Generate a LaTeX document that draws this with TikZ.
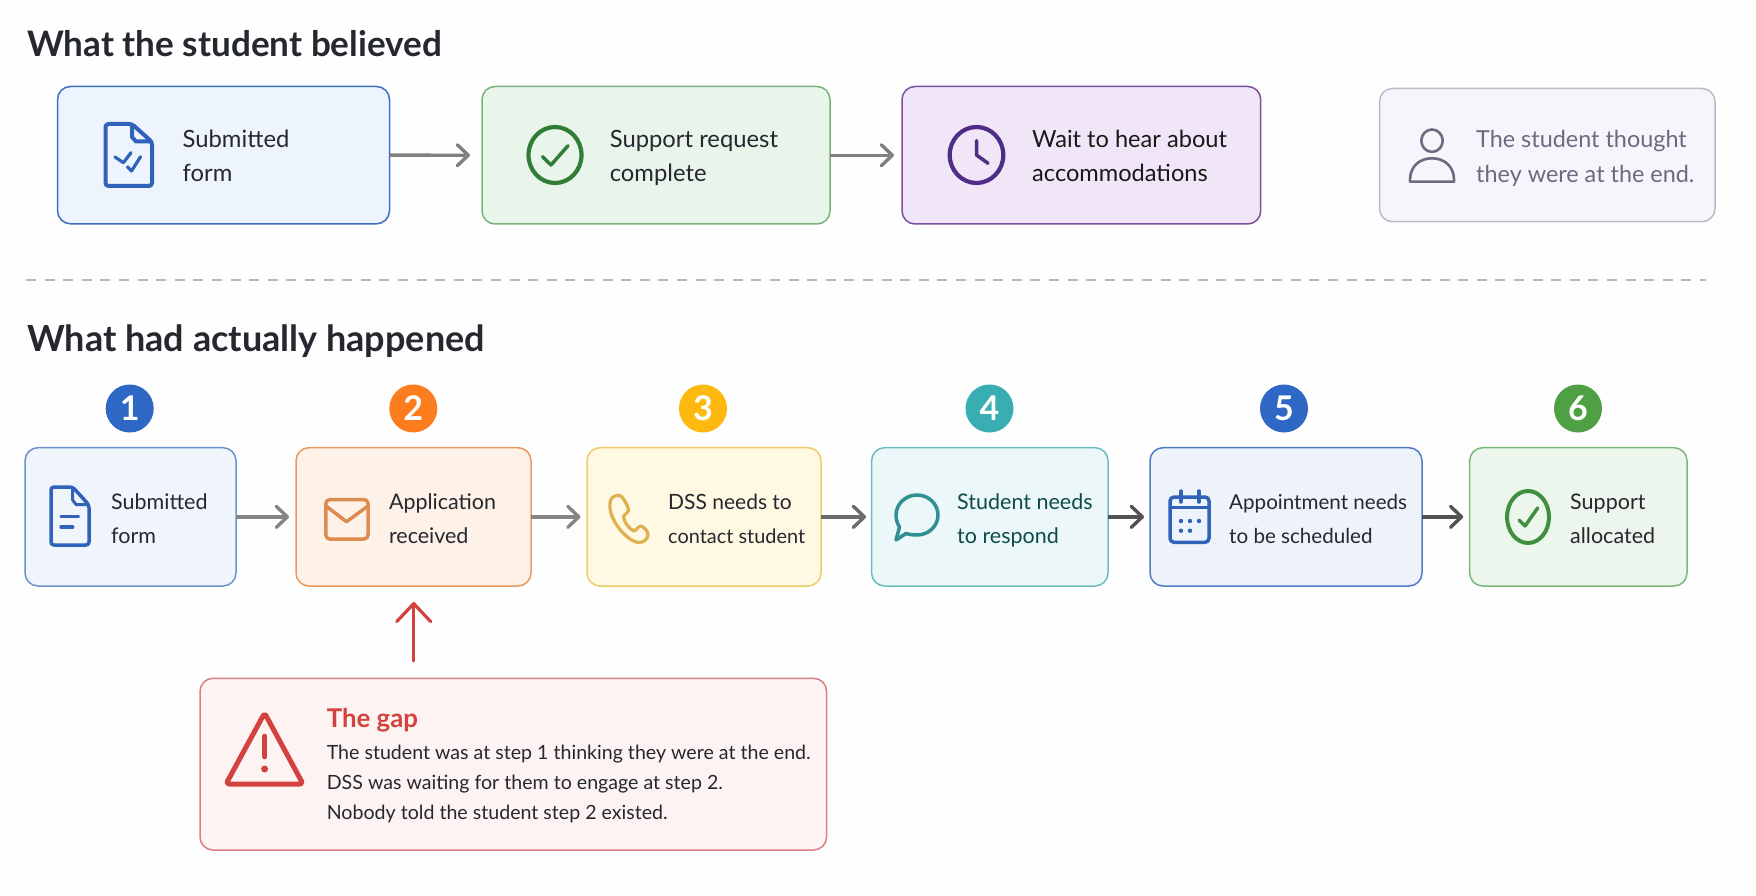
\documentclass[tikz,border=0pt]{standalone}
\usepackage{fontspec}
\setmainfont{Lato}
\usetikzlibrary{arrows.meta}
\definecolor{bgc}{HTML}{FEFEFE}
\definecolor{ink}{HTML}{25282E}
\definecolor{blueS}{HTML}{3D70C0}\definecolor{blueF}{HTML}{EEF4FD}\definecolor{blueI}{HTML}{2F62B8}
\definecolor{greenS}{HTML}{7AB07E}\definecolor{greenF}{HTML}{E9F4EA}\definecolor{greenI}{HTML}{2F7D36}
\definecolor{purpS}{HTML}{7A519C}\definecolor{purpF}{HTML}{F0E6F7}\definecolor{purpI}{HTML}{4F2D87}
\definecolor{greyS}{HTML}{BDBAC8}\definecolor{greyF}{HTML}{F7F5FB}\definecolor{greyI}{HTML}{6D6980}
\definecolor{oneS}{HTML}{6A93CB}\definecolor{oneF}{HTML}{F0F5FC}
\definecolor{orS}{HTML}{E89A5E}\definecolor{orF}{HTML}{FDF1E8}\definecolor{orI}{HTML}{DD8C50}\definecolor{orN}{HTML}{FB7D1E}
\definecolor{yeS}{HTML}{F0CC66}\definecolor{yeF}{HTML}{FFF8E2}\definecolor{yeI}{HTML}{E0B050}\definecolor{yeN}{HTML}{FDB90F}
\definecolor{teS}{HTML}{6EBCC0}\definecolor{teF}{HTML}{EBF7F8}\definecolor{teI}{HTML}{2F8F93}\definecolor{teN}{HTML}{38ADB2}\definecolor{teT}{HTML}{0F4A4A}
\definecolor{fiS}{HTML}{4F7CC4}\definecolor{fiF}{HTML}{EDF2FB}\definecolor{fiN}{HTML}{2F68C4}
\definecolor{siS}{HTML}{7AB87A}\definecolor{siF}{HTML}{EDF6ED}\definecolor{siI}{HTML}{3F8F3F}\definecolor{siN}{HTML}{4FA045}
\definecolor{gapS}{HTML}{D98080}\definecolor{gapF}{HTML}{FDF3F2}\definecolor{gapI}{HTML}{D2433F}
\tikzset{
  card/.style={draw=#1S,fill=#1F,line width=1.5pt,rounded corners=13pt,inner sep=0pt,outer sep=0pt},
  heading/.style={anchor=base west,inner sep=0pt,text=ink,font=\fontsize{35.6}{42}\selectfont\bfseries},
  toplbl/.style={anchor=base west,inner sep=0pt,align=left,text=#1,font=\fontsize{23.8}{34.5}\selectfont},
  lowlbl/.style={anchor=base west,inner sep=0pt,align=left,text=#1,font=\fontsize{21.5}{34}\selectfont},
  gaplbl/.style={anchor=base west,inner sep=0pt,text=ink,font=\fontsize{19.6}{24}\selectfont},
  badge/.style={circle,fill=#1,minimum size=48pt,inner sep=0pt,text=white,font=\fontsize{34}{40}\selectfont\bfseries},
  flow/.style={draw=#1,line width=3.4pt,-{Straight Barb[length=11pt,width=21pt,line cap=round,line join=round]}},
  icon/.style={draw=#1,line width=3.5pt,line cap=round,line join=round},
}
\newcommand{\cardat}[6]{\node[card=#2,minimum width=#5-#3,minimum height=#6-#4] (#1) at ({(#3+#5)/2},{(#4+#6)/2}) {};}
\begin{document}
\begin{tikzpicture}[x=1pt,y=-1pt]
\useasboundingbox (0,0) rectangle (1756,896);
\fill[bgc] (0,0) rectangle (1756,896);
% titles
\node[heading,font=\fontsize{35.1}{42}\selectfont\bfseries] (t1) at (27,57) {What the student believed};
\node[heading,font=\fontsize{36}{42}\selectfont\bfseries] (t2) at (27,351) {What had actually happened};
% divider
\coordinate (dl) at (26,280); \coordinate (dr) at (1706,280);
\draw[draw=black!28,line width=2pt,dash pattern=on 10pt off 8.6pt] (dl) -- (dr);
% top row
\cardat{a}{blue}{57.5}{86.5}{389.5}{223.8}
\cardat{b}{green}{482}{86.5}{830}{224}
\cardat{c}{purp}{902}{86.5}{1260.7}{224}
\cardat{d}{grey}{1379.5}{88.5}{1715}{221.7}
\draw[flow=black!50] (a.east) -- ([xshift=-12pt]b.west);
\draw[flow=black!50] (b.east) -- ([xshift=-8pt]c.west);
\node[toplbl=ink] (la) at (182.5,182) {Submitted\\form};
\node[toplbl=ink] (lb) at (609.6,182) {Support request\\complete};
\node[toplbl=black!90,font=\fontsize{23.6}{34.5}\selectfont] (lc) at (1032,182) {Wait to hear about\\accommodations};
\node[toplbl=greyI,font=\fontsize{23.4}{34.5}\selectfont] (ld) at (1476,182.5) {The student thought\\they were at the end.};
% doc check icon
\draw[icon=blueI,line width=4pt,rounded corners=3pt] (132,124) -- (105.5,124) -- (105.5,186) -- (152,186) -- (152,142) -- cycle;
\draw[icon=blueI,line width=4pt] (132,125) -- (132,137) -- (136,141.5) -- (151,141.5);
\draw[icon=blueI,line width=3.2pt] (115,157) -- (123.4,162.7) -- (131,152.7);
\draw[icon=blueI,line width=3.2pt] (127.4,166.7) -- (131.5,171) -- (140.6,156.7);
% check circle
\draw[icon=greenI,line width=4.2pt] (555,155) circle [x radius=26.5,y radius=28];
\draw[icon=greenI] (542.5,156.7) -- (551,165) -- (568,145.7);
% clock
\draw[icon=purpI,line width=4.2pt] (976.5,155) circle [x radius=26.8,y radius=28];
\draw[icon=purpI] (976.5,140.7) -- (976.5,155) -- (988,163.3);
% person
\draw[icon=greyI,line width=2.6pt] (1432,140.7) circle [x radius=10.7,y radius=11.2];
\draw[icon=greyI,line width=2.6pt] (1410,181.7) -- (1410,180) .. controls (1410,166) and (1420,158.3) .. (1432,158.3) .. controls (1444,158.3) and (1454,166) .. (1454,180) -- (1454,181.7) -- cycle;
% lower row
\cardat{s1}{one}{25}{447.7}{236}{586}
\cardat{s2}{or}{296}{447.7}{531}{586}
\cardat{s3}{ye}{587}{447.7}{821}{586}
\cardat{s4}{te}{871.6}{447.7}{1108}{586}
\cardat{s5}{fi}{1150}{447.7}{1422}{586}
\cardat{s6}{si}{1469.7}{447.7}{1687}{586}
\node[badge=fiN] (n1) at (129.7,408.5) {1};
\node[badge=orN] (n2) at (413.3,408.5) {2};
\node[badge=yeN] (n3) at (703,408.5) {3};
\node[badge=teN] (n4) at (989.5,408.5) {4};
\node[badge=fiN] (n5) at (1284,408.5) {5};
\node[badge=siN] (n6) at (1578,408.5) {6};
\draw[flow=black!48] (s1.east) -- ([xshift=-7pt]s2.west);
\draw[flow=black!48] (s2.east) -- ([xshift=-6.5pt]s3.west);
\draw[flow=black!58] (s3.east) -- ([xshift=-5.5pt]s4.west);
\draw[flow=black!68] (s4.east) -- ([xshift=-6pt]s5.west);
\draw[flow=black!68] (s5.east) -- ([xshift=-6.5pt]s6.west);
\node[lowlbl=ink] (l1) at (111,543) {Submitted\\form};
\node[lowlbl=ink] (l2) at (388.8,543) {Application\\received};
\node[lowlbl=ink,font=\fontsize{21}{34}\selectfont] (l3) at (668,543) {DSS needs to\\\fontsize{19.9}{34}\selectfont contact student};
\node[lowlbl=teT] (l4) at (957,543) {Student needs\\to respond};
\node[lowlbl=ink,font=\fontsize{20.6}{34}\selectfont] (l5) at (1229,543) {Appointment needs\\to be scheduled};
\node[lowlbl=ink] (l6) at (1570,543) {Support\\allocated};
% doc
\draw[icon=blueI,rounded corners=3pt] (72.7,487) -- (51,487) -- (51,545) -- (89,545) -- (89,505) -- cycle;
\draw[icon=blueI,line width=3pt] (72.7,488) -- (72.7,500) -- (76,504.5) -- (88,504.5);
\draw[icon=blueI] (61,516.7) -- (78.5,516.7);
\draw[icon=blueI] (61,527) -- (72.7,527);
% mail
\draw[icon=orI,rounded corners=4pt] (325.8,499.5) rectangle (368,539);
\draw[icon=orI] (326,506) -- (346.5,521.7) -- (368,506);
% phone
\draw[icon=yeI,line width=3.2pt] (612,498) .. controls (615,495) and (620,494.5) .. (622,497) .. controls (625,501) and (628,506) .. (628.5,510) .. controls (628.5,513) and (624,514) .. (623.5,517) .. controls (624,522) and (629,529) .. (634,531) .. controls (636,531) and (638,526) .. (641,526) .. controls (644,527) and (648,531) .. (648,535) .. controls (648,539) and (643,543) .. (638,542.5) .. controls (625,540) and (608,518) .. (610,503) .. controls (610,501) and (611,499) .. (612,498) -- cycle;
% bubble
\draw[icon=teI] (899.5,527) .. controls (897,523) and (896,519) .. (896,515) .. controls (896,504) and (905.6,495) .. (917,495) .. controls (928.6,495) and (938,504) .. (938,515) .. controls (938,526) and (928.6,535) .. (917,535) .. controls (913,535) and (909,534.5) .. (906,533.5) -- (896,540) -- cycle;
% calendar
\draw[icon=blueI,rounded corners=4pt] (1170,497) rectangle (1209,542.3);
\draw[icon=blueI] (1170,507.5) -- (1209,507.5);
\draw[icon=blueI] (1181,491) -- (1181,502);
\draw[icon=blueI] (1199,491) -- (1199,502);
\fill[blueI] (1181,521) circle [radius=2.2] (1190,521) circle [radius=2.2] (1199,521) circle [radius=2.2] (1181,530.7) circle [radius=2.2] (1190,530.7) circle [radius=2.2];
% check ellipse
\draw[icon=siI,line width=4pt] (1528,517) circle [x radius=21,y radius=26];
\draw[icon=siI] (1519,520) -- (1525,526) -- (1537.7,508);
% gap
\cardat{g}{gap}{200}{678.3}{826.6}{850}
\coordinate (gs) at (413.7,661);
\draw[line width=3.2pt,draw=gapI,line cap=round,-{Straight Barb[length=18pt,width=34pt,line cap=round,line join=round]}] (gs) -- ([yshift=-16pt]s2.south -| gs);
\draw[icon=gapI,line width=5pt,rounded corners=3pt] (264.6,713) -- (303,784) -- (226,784) -- cycle;
\draw[icon=gapI,line width=4.5pt] (264.6,736) -- (264.6,757);
\fill[gapI] (264.6,769) circle [radius=3.5];
\node[anchor=base west,inner sep=0pt,text=gapI,font=\fontsize{25.8}{30}\selectfont\bfseries] (gt) at (326.6,727) {The gap};
\node[gaplbl] (g1) at (326.6,759.5) {The student was at step 1 thinking they were at the end.};
\node[gaplbl] (g2) at (326.6,789.5) {DSS was waiting for them to engage at step 2.};
\node[gaplbl] (g3) at (326.6,819.5) {Nobody told the student step 2 existed.};
\end{tikzpicture}
\end{document}
